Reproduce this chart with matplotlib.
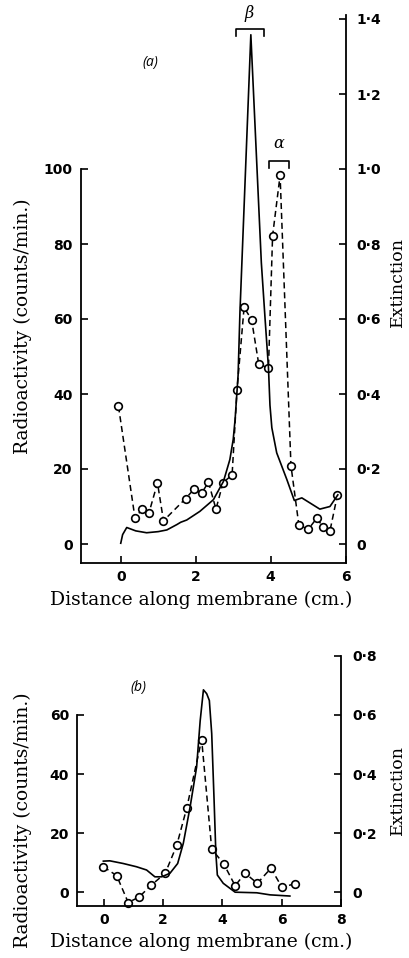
import matplotlib
matplotlib.use("Agg")
import matplotlib.pyplot as plt
from matplotlib.ticker import FixedLocator

# ---------------- data: panel (a) ----------------
a_pts_x = [-0.06, 0.38, 0.58, 0.75, 0.98, 1.14, 1.73, 1.96, 2.16, 2.34, 2.54, 2.73, 2.97,
           3.10, 3.29, 3.49, 3.68, 3.94, 4.05, 4.25, 4.54, 4.75, 5.00, 5.23, 5.39, 5.58, 5.78]
a_counts = [36.7, 6.9, 9.4, 8.2, 16.3, 6.2, 12.1, 14.7, 13.6, 16.5, 9.3, 16.4, 18.4,
            41.0, 63.1, 59.8, 48.0, 46.9, 82.2, 98.3, 20.9, 5.1, 3.9, 6.9, 4.6, 3.5, 13.1]
a_ext_x = [0.0, 0.05, 0.16, 0.4, 0.69, 1.0, 1.23, 1.5, 1.6, 1.76, 2.11, 2.47, 2.74, 2.91,
           3.0, 3.05, 3.13, 3.18, 3.47, 3.75, 3.85, 3.94, 3.98, 4.03, 4.16, 4.43, 4.63,
           4.83, 5.31, 5.58, 5.79]
a_ext = [0.002, 0.025, 0.044, 0.035, 0.030, 0.033, 0.0375, 0.052, 0.058, 0.064, 0.087,
         0.118, 0.167, 0.225, 0.279, 0.332, 0.45, 0.62, 1.358, 0.75, 0.60, 0.47, 0.37,
         0.31, 0.243, 0.172, 0.116, 0.123, 0.093, 0.100, 0.131]

# ---------------- data: panel (b) ----------------
b_pts_x = [-0.02, 0.43, 0.82, 1.19, 1.59, 2.07, 2.46, 2.80, 3.30, 3.64, 4.05, 4.43,
           4.77, 5.18, 5.64, 6.01, 6.44]
b_counts = [8.7, 5.7, -3.4, -1.5, 2.4, 6.5, 16.0, 28.7, 51.7, 14.7, 9.6, 2.3,
            6.5, 3.1, 8.2, 1.8, 2.9]
b_ext_x = [-0.02, 0.2, 0.65, 1.1, 1.44, 1.72, 1.95, 2.23, 2.49, 2.68, 2.91, 3.13, 3.25,
           3.36, 3.47, 3.56, 3.64, 3.72, 3.78, 3.83, 4.03, 4.43, 5.16, 5.61, 6.28]
b_ext = [0.106, 0.107, 0.098, 0.087, 0.076, 0.053, 0.053, 0.065, 0.098, 0.166, 0.289,
         0.424, 0.58, 0.685, 0.672, 0.649, 0.537, 0.312, 0.132, 0.059, 0.031, 0.001,
         -0.001, -0.008, -0.012]

a_xticks = [0, 2, 4, 6]
b_xticks = [0, 2, 4, 6, 8]
a_lticks = [0, 20, 40, 60, 80, 100]
b_lticks = [0, 20, 40, 60]
a_rticks = [0, 0.2, 0.4, 0.6, 0.8, 1.0, 1.2, 1.4]
a_rlabels = ["0", "0·2", "0·4", "0·6", "0·8", "1·0", "1·2", "1·4"]
b_rticks = [0, 0.2, 0.4, 0.6, 0.8]
b_rlabels = ["0", "0·2", "0·4", "0·6", "0·8"]

W, H = 409, 958
fig = plt.figure(figsize=(W / 100, H / 100), dpi=100)

SERIF = ["DejaVu Serif"]
TICKFONT = dict(family=["DejaVu Sans"], weight="bold", size=10)
LBL = dict(family=SERIF, size=13.5)
LBL_R = dict(family=SERIF, size=12.5)


def make_panel(rect, xlim, ylim, lspine_top, xticks, lticks, rticks, rlabels):
    ax = fig.add_axes(rect)
    ax.set_xlim(*xlim)
    ax.set_ylim(*ylim)
    ax2 = ax.twinx()
    ax2.set_ylim(ylim[0] / 100, ylim[1] / 100)
    for a in (ax, ax2):
        a.patch.set_visible(False)
        a.spines["top"].set_visible(False)
    ax.spines["right"].set_visible(False)
    ax2.spines["left"].set_visible(False)
    ax2.spines["bottom"].set_visible(False)
    ax.spines["left"].set_bounds(ylim[0], lspine_top)
    for s in ("left", "bottom"):
        ax.spines[s].set_linewidth(1.3)
    ax2.spines["right"].set_linewidth(1.3)
    ax.xaxis.set_major_locator(FixedLocator(xticks))
    ax.set_xticklabels([str(t) for t in xticks], fontdict=TICKFONT)
    ax.yaxis.set_major_locator(FixedLocator(lticks))
    ax.set_yticklabels([str(t) for t in lticks], fontdict=TICKFONT)
    ax2.yaxis.set_major_locator(FixedLocator(rticks))
    ax2.set_yticklabels(rlabels, fontdict=TICKFONT)
    ax.tick_params(axis="both", direction="in", length=5, width=1.2, pad=5)
    ax.tick_params(axis="y", pad=6)
    ax2.tick_params(axis="y", direction="in", length=5, width=1.2, pad=8)
    return ax, ax2


# ---------------- panel (a) ----------------
axa, axa2 = make_panel([81 / W, 1 - 562.75 / H, 264.7 / W, 547.5 / H],
                       (-1.06, 6.0), (-5, 141), 100,
                       a_xticks, a_lticks, a_rticks, a_rlabels)
axa2.plot(a_ext_x, a_ext, color="black", lw=1.2)
axa.plot(a_pts_x, a_counts, color="black", lw=1.1, ls=(0, (4, 2.5)),
         marker="o", ms=5.5, mfc="white", mec="black", mew=1.2)

# brackets (a)
axa.plot([3.07, 3.07, 3.83, 3.83], [135.5, 137.3, 137.3, 135.5], color="black",
         lw=1.2, clip_on=False)
axa.text(3.42, 141.5, "β", ha="center", va="center", fontsize=11.5, style="italic",
         family=["DejaVu Serif"], clip_on=False)
axa.plot([3.96, 3.96, 4.50, 4.50], [100.3, 102.2, 102.2, 100.3], color="black",
         lw=1.2)
axa.text(4.22, 106.7, "α", ha="center", va="center", fontsize=11.5, style="italic",
         family=["DejaVu Serif"])
axa.text(0.78, 128.4, "(a)", ha="center", va="center", fontsize=10, style="italic",
         family=["Open Sans", "DejaVu Sans"])

fig.text(23 / W, 1 - 326 / H, "Radioactivity (counts/min.)", rotation=90,
         ha="center", va="center", **LBL)
fig.text(397 / W, 1 - 282 / H, "Extinction", rotation=90, ha="center",
         va="center", **LBL_R)
fig.text(201 / W, 1 - 600 / H, "Distance along membrane (cm.)", ha="center",
         va="center", **LBL)

# ---------------- panel (b) ----------------
axb, axb2 = make_panel([77.3 / W, 1 - 905.8 / H, 263.5 / W, 250 / H],
                       (-0.9, 8.0), (-4.5, 80), 60,
                       b_xticks, b_lticks, b_rticks, b_rlabels)
axb2.plot(b_ext_x, b_ext, color="black", lw=1.2)
axb.plot(b_pts_x, b_counts, color="black", lw=1.1, ls=(0, (4, 2.5)),
         marker="o", ms=5.5, mfc="white", mec="black", mew=1.2, clip_on=False)
axb.text(1.16, 69.4, "(b)", ha="center", va="center", fontsize=10, style="italic",
         family=["Open Sans", "DejaVu Sans"])

fig.text(23 / W, 1 - 820 / H, "Radioactivity (counts/min.)", rotation=90,
         ha="center", va="center", **LBL)
fig.text(397 / W, 1 - 790 / H, "Extinction", rotation=90, ha="center",
         va="center", **LBL_R)
fig.text(201 / W, 1 - 942 / H, "Distance along membrane (cm.)", ha="center",
         va="center", **LBL)

fig.savefig("out.png", dpi=100)
